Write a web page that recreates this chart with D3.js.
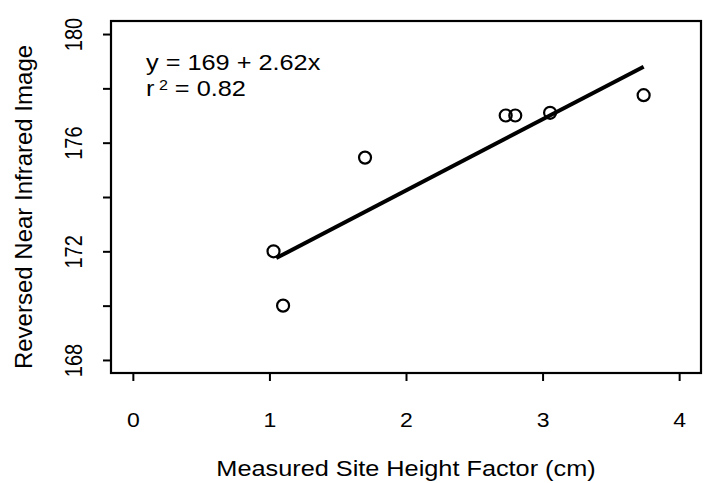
<!DOCTYPE html>
<html>
<head>
<meta charset="utf-8">
<script src="https://cdn.jsdelivr.net/npm/d3@7"></script>
<style>
  body { margin: 0; background: #fff; }
  text { font-family: "Liberation Sans", Arial, sans-serif; fill: #000; }
</style>
</head>
<body>
<svg id="chart"></svg>
<script>
// measured site height factor (cm) vs reversed NIR value
const siteHeight = [1.03, 1.10, 1.70, 2.73, 2.80, 3.055, 3.74];
const nirValue = [172.0, 170.0, 175.45, 177.0, 177.0, 177.1, 177.75];
const xTicks = [0, 1, 2, 3, 4];
const yTicks = [168, 170, 172, 174, 176, 178, 180];
const yTickLabels = [168, 172, 176, 180];
// fitted line, from the equation shown on the plot
const fitIntercept = 169;
const fitSlope = 2.62;
const fitRange = [1.05, 3.74];

const width = 709;
const height = 483;
const margin = {top: 21, right: 8, bottom: 110, left: 111};
const sx = 1.15; // the original text is a bit wider than tall

const svg = d3.select('#chart')
    .attr('width', width)
    .attr('height', height);

const x = d3.scaleLinear().domain([-0.16, 4.16]).range([margin.left, width - margin.right]);
const y = d3.scaleLinear().domain([167.52, 180.48]).range([height - margin.bottom, margin.top]);

// box
svg.append('rect')
    .attr('x', x.range()[0])
    .attr('y', y.range()[1])
    .attr('width', x.range()[1] - x.range()[0])
    .attr('height', y.range()[0] - y.range()[1])
    .attr('fill', 'none')
    .attr('stroke', '#000')
    .attr('stroke-width', 2.2);

// x axis
const xAxis = svg.append('g')
    .attr('transform', `translate(0,${y.range()[0]})`)
    .call(d3.axisBottom(x).tickValues(xTicks).tickSize(8).tickFormat(d3.format('d')))
    .attr('font-size', 20)
    .attr('font-family', '"Liberation Sans", Arial, sans-serif');
xAxis.select('.domain').remove();
xAxis.selectAll('line').attr('stroke-width', 2);
xAxis.selectAll('text')
    .attr('y', 54)
    .attr('dy', 0)
    .attr('transform', `scale(${sx},1)`);

// y axis
const yAxis = svg.append('g')
    .attr('transform', `translate(${x.range()[0]},0)`)
    .call(d3.axisLeft(y).tickValues(yTicks).tickSize(8).tickFormat(d => yTickLabels.includes(d) ? d : ''))
    .attr('font-size', 20)
    .attr('font-family', '"Liberation Sans", Arial, sans-serif');
yAxis.select('.domain').remove();
yAxis.selectAll('line').attr('stroke-width', 2);
yAxis.selectAll('text')
    .attr('text-anchor', 'middle')
    .attr('dy', 0)
    .attr('x', 0)
    .attr('transform', `translate(-29,0) scale(${sx},1) rotate(-90)`);

// titles
svg.append('text')
    .attr('transform', `translate(${(x.range()[0] + x.range()[1]) / 2},476) scale(${sx},1)`)
    .attr('text-anchor', 'middle')
    .style('font-size', '22px')
    .text('Measured Site Height Factor (cm)');

svg.append('text')
    .attr('transform', `translate(32,${(y.range()[0] + y.range()[1]) / 2 + 10}) rotate(-90)`)
    .attr('text-anchor', 'middle')
    .style('font-size', '24px')
    .text('Reversed Near Infrared Image');

// fit line
const line = d3.line().x(d => x(d)).y(d => y(fitIntercept + fitSlope * d));
svg.append('path')
    .attr('d', line(fitRange))
    .attr('fill', 'none')
    .attr('stroke', '#000')
    .attr('stroke-width', 4);

// points
svg.append('g')
    .selectAll('circle')
    .data(siteHeight)
    .join('circle')
    .attr('cx', d => x(d))
    .attr('cy', (d, i) => y(nirValue[i]))
    .attr('r', 6)
    .attr('fill', 'none')
    .attr('stroke', '#000')
    .attr('stroke-width', 2.2);

// equation
const ann = svg.append('g').attr('transform', `translate(146,0) scale(${sx},1)`);
ann.append('text').attr('y', 70).style('font-size', '22px').text('y = 169 + 2.62x');
const r2 = ann.append('text').attr('y', 96).style('font-size', '22px');
r2.append('tspan').text('r');
r2.append('tspan').attr('dy', -6).style('font-size', '14px').text(' 2');
r2.append('tspan').attr('dy', 6).text(' = 0.82');
</script>
</body>
</html>
